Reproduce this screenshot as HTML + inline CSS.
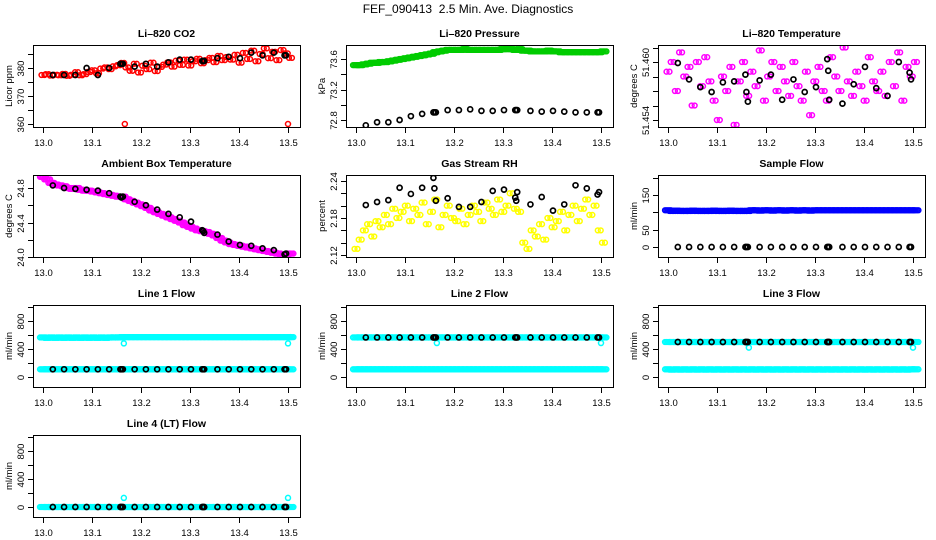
<!DOCTYPE html>
<html><head><meta charset="utf-8"><style>
html,body{margin:0;padding:0;background:#fff;}
svg{display:block;font-family:"Liberation Sans",Arial,sans-serif;}
</style></head><body>
<svg id="chart" width="936" height="540" viewBox="0 0 936 540">
<text x="468" y="13" text-anchor="middle" font-size="12">FEF_090413&#160; 2.5 Min. Ave. Diagnostics</text>
</svg>
<script>
// ---- data ----
const xTicks = [13.0,13.1,13.2,13.3,13.4,13.5];
const xTickLabels = ["13.0","13.1","13.2","13.3","13.4","13.5"];
const blackX = [13.02,13.043,13.066,13.089,13.112,13.135,13.158,13.160,13.163,13.187,13.21,13.233,13.256,13.279,13.302,13.325,13.327,13.329,13.356,13.379,13.402,13.425,13.448,13.471,13.493,13.496];

const co2Cloud = [377.5,377.8,377.3,377.6,377.4,377.9,377.2,377.6,378.5,377.4,377.8,378.6,379.2,378.1,379.8,380.2,379.6,380.6,381.0,381.8,380.2,379.0,381.5,378.4,380.8,379.6,381.9,378.9,380.4,381.2,382.0,380.5,382.6,381.1,383.0,380.9,382.4,383.3,381.7,382.8,383.6,382.1,384.3,382.8,383.9,383.0,384.7,381.9,385.4,383.2,386.2,382.4,385.0,387.0,383.5,385.8,382.8,386.4,385.2,383.6];
const co2Black = [377.5,377.5,377.5,380,377.5,380,381.5,381.5,381.5,380.5,381.5,380.5,382,383,383,382.5,382.5,382.5,383.5,384,383.5,385.5,384.5,385.5,384.5,384.5];
const co2OutX = [13.167,13.5];
const co2OutY = [360,360];

const presCloud = [73.52,73.52,73.53,73.54,73.55,73.55,73.56,73.56,73.57,73.58,73.59,73.60,73.61,73.62,73.63,73.64,73.65,73.66,73.67,73.69,73.70,73.71,73.72,73.72,73.72,73.72,73.73,73.72,73.72,73.72,73.72,73.72,73.72,73.72,73.72,73.73,73.73,73.73,73.72,73.73,73.71,73.71,73.70,73.70,73.70,73.70,73.71,73.70,73.70,73.69,73.69,73.69,73.69,73.69,73.69,73.69,73.69,73.69,73.69,73.70];
const presBlack = [72.73,72.77,72.77,72.8,72.85,72.88,72.9,72.9,72.9,72.93,72.93,72.94,72.92,72.92,72.93,72.93,72.93,72.93,72.92,72.91,72.92,72.91,72.9,72.9,72.9,72.9];

const tempCloud = [51.4590,51.4600,51.4570,51.4610,51.4585,51.4595,51.4555,51.4600,51.4575,51.4605,51.4580,51.4560,51.4540,51.4585,51.4570,51.4595,51.4535,51.4580,51.4600,51.4565,51.4590,51.4575,51.4612,51.4560,51.4585,51.4600,51.4570,51.4595,51.4580,51.4565,51.4600,51.4575,51.4560,51.4590,51.4545,51.4580,51.4595,51.4570,51.4560,51.4605,51.4585,51.4570,51.4615,51.4580,51.4565,51.4590,51.4575,51.4560,51.4605,51.4580,51.4570,51.4590,51.4565,51.4600,51.4575,51.4610,51.4560,51.4595,51.4585,51.4600];
const tempBlack = [51.4599,51.4582,51.4574,51.4569,51.4579,51.4580,51.4587,51.4569,51.4559,51.4581,51.4587,51.4561,51.4582,51.4569,51.4574,51.4603,51.4591,51.4561,51.4557,51.4577,51.4595,51.4573,51.4565,51.4600,51.4589,51.4582];

const ambCloud = [24.93,24.90,24.86,24.84,24.83,24.82,24.80,24.79,24.80,24.78,24.77,24.77,24.76,24.75,24.74,24.73,24.72,24.71,24.70,24.70,24.67,24.65,24.63,24.61,24.59,24.57,24.54,24.52,24.50,24.48,24.46,24.44,24.42,24.40,24.37,24.35,24.33,24.31,24.30,24.29,24.27,24.25,24.22,24.19,24.17,24.15,24.14,24.13,24.12,24.11,24.10,24.09,24.08,24.07,24.06,24.05,24.04,24.03,24.03,24.04];
const ambBlack = [24.83,24.80,24.79,24.78,24.77,24.74,24.70,24.69,24.70,24.64,24.60,24.55,24.50,24.46,24.41,24.31,24.30,24.28,24.26,24.18,24.14,24.13,24.10,24.08,24.03,24.04];

const rhCloud = [2.130,2.145,2.160,2.170,2.150,2.175,2.165,2.185,2.170,2.195,2.180,2.190,2.200,2.175,2.195,2.185,2.205,2.170,2.190,2.210,2.165,2.185,2.200,2.180,2.175,2.195,2.170,2.185,2.200,2.190,2.175,2.205,2.195,2.185,2.210,2.190,2.200,2.220,2.195,2.190,2.140,2.130,2.160,2.150,2.170,2.145,2.180,2.165,2.175,2.190,2.160,2.185,2.200,2.175,2.195,2.210,2.185,2.200,2.160,2.140];
const rhBlack = [2.201,2.206,2.209,2.229,2.219,2.229,2.245,2.228,2.208,2.212,2.198,2.198,2.206,2.224,2.226,2.213,2.208,2.222,2.202,2.214,2.192,2.202,2.233,2.228,2.218,2.222];

const sampleCloud = [106,104,105,104,104,104,105,104,104,104,104,105,104,104,104,105,104,104,104,104,106,106,105,106,106,105,106,106,105,106,106,105,106,106,105,106,106,106,106,106,106,106,106,106,106,106,106,106,106,106,106,106,106,106,106,106,106,106,106,106];
const sampleBlack = [0,0,0,0,0,0,0,0,0,0,0,0,0,0,0,0,0,0,0,0,0,0,0,0,0,0];

const line1Upper = [565,560,565,560,565,560,565,560,565,560,565,560,565,560,565,560,565,565,565,570,570,570,570,570,570,570,570,570,570,570,570,570,570,570,570,570,570,570,570,570,570,570,570,570,570,570,570,570,570,570,570,570,570,570,570,570,570,570,570,570];
const line1Lower = [110,110,110,110,110,110,110,110,110,110,110,110,110,110,110,110,110,110,110,110,110,110,110,110,110,110,110,110,110,110,110,110,110,110,110,110,110,110,110,110,110,110,110,110,110,110,110,110,110,110,110,110,110,110,110,110,110,110,110,110];
const line1Black = [110,110,110,110,110,110,110,110,110,110,110,110,110,110,110,110,110,110,110,110,110,110,110,110,110,110];
const line1OutX = [13.165,13.5,13.505];
const line1OutY = [480,480,570];

const line2Upper = [565,565,565,565,565,565,565,565,565,565,565,565,565,565,565,565,565,565,565,565,565,565,565,565,565,565,565,565,565,565,565,565,565,565,565,565,565,565,565,565,565,565,565,565,565,565,565,565,565,565,565,565,565,565,565,565,565,565,565,565];
const line2Lower = [110,110,110,110,110,110,110,110,110,110,110,110,110,110,110,110,110,110,110,110,110,110,110,110,110,110,110,110,110,110,110,110,110,110,110,110,110,110,110,110,110,110,110,110,110,110,110,110,110,110,110,110,110,110,110,110,110,110,110,110];
const line2Black = [565,565,565,565,565,565,565,565,565,565,565,565,565,565,565,565,565,565,565,565,565,565,565,565,565,565];
const line2OutX = [13.165,13.5];
const line2OutY = [485,485];

const line3Upper = [500,500,500,500,500,500,500,500,500,500,500,500,500,500,500,500,500,500,500,500,500,500,500,500,500,500,500,500,500,500,500,500,500,500,500,500,500,500,500,500,500,500,500,500,500,500,500,500,500,500,500,500,500,500,500,500,500,500,500,500];
const line3Lower = [110,105,110,105,110,105,110,105,110,105,110,105,110,105,110,105,110,105,110,105,110,105,110,105,110,105,110,105,110,105,110,105,110,105,110,105,110,105,110,105,110,105,110,105,110,105,110,105,110,105,110,105,110,105,110,105,110,105,110,110];
const line3Black = [500,500,500,500,500,500,500,500,500,500,500,500,500,500,500,500,500,500,500,500,500,500,500,500,500,500];
const line3OutX = [13.165,13.5];
const line3OutY = [420,420];

const line4Cloud = [0,0,0,0,0,0,0,0,0,0,0,0,0,0,0,0,0,0,0,0,0,0,0,0,0,0,0,0,0,0,0,0,0,0,0,0,0,0,0,0,0,0,0,0,0,0,0,0,0,0,0,0,0,0,0,0,0,0,0,0];
const line4Black = [0,0,0,0,0,0,0,0,0,0,0,0,0,0,0,0,0,0,0,0,0,0,0,0,0,0];
const line4OutX = [13.165,13.5];
const line4OutY = [130,130];

const flowTicks = [0,200,400,600,800,1000];
const flowLabels = ["0","","400","","800",""];

// ---- rendering ----
const NS = "http://www.w3.org/2000/svg";
const svg = document.getElementById("chart");
const colLeft = [33,346,658];
const rowTop = [45,175,305,435];
const BW = 267, BH = 82;

function el(tag, parent){ const e=document.createElementNS(NS,tag); parent.appendChild(e); return e; }
function gridX(n,i){ return 13.0 + i*0.505/(n-1); }

const panels = [
 {name:"co2",col:0,row:0,title:"Li–820 CO2",ylab:"Licor ppm",ylim:[358.93,388.21],ticks:[360,365,370,375,380,385],labels:["360","","370","","380",""],scatter:true,
  clouds:[{y:co2Cloud,c:"#ff0000"}],black:co2Black,out:[{x:co2OutX,y:co2OutY,c:"#ff0000"}]},
 {name:"pressure",col:1,row:0,title:"Li–820 Pressure",ylab:"kPa",ylim:[72.708,73.784],ticks:[72.8,73.0,73.2,73.4,73.6],labels:["72.8","","73.2","","73.6"],
  clouds:[{y:presCloud,c:"#00cc00"}],black:presBlack,out:[]},
 {name:"temperature",col:2,row:0,title:"Li–820 Temperature",ylab:"degrees C",ylim:[51.45328,51.46176],ticks:[51.454,51.4555,51.457,51.4585,51.460,51.4615],labels:["51.454","","","","51.460",""],scatter:true,
  clouds:[{y:tempCloud,c:"#ff00ff"}],black:tempBlack,out:[]},
 {name:"ambient-temperature",col:0,row:1,title:"Ambient Box Temperature",ylab:"degrees C",ylim:[24.0,24.951],ticks:[24.0,24.2,24.4,24.6,24.8],labels:["24.0","","24.4","","24.8"],
  clouds:[{y:ambCloud,c:"#ff00ff"}],black:ambBlack,out:[]},
 {name:"gas-rh",col:1,row:1,title:"Gas Stream RH",ylab:"percent",ylim:[2.1168,2.2497],ticks:[2.12,2.14,2.16,2.18,2.20,2.22,2.24],labels:["2.12","","","2.18","","","2.24"],scatter:true,
  clouds:[{y:rhCloud,c:"#ffff00"}],black:rhBlack,out:[]},
 {name:"sample-flow",col:2,row:1,title:"Sample Flow",ylab:"ml/min",ylim:[-28.8,207.7],ticks:[0,50,100,150,200],labels:["0","50","","150",""],
  clouds:[{y:sampleCloud,c:"#0000ff"}],black:sampleBlack,out:[]},
 {name:"line1-flow",col:0,row:2,title:"Line 1 Flow",ylab:"ml/min",ylim:[-142.9,1028.6],ticks:flowTicks,labels:flowLabels,
  clouds:[{y:line1Upper,c:"#00ffff"},{y:line1Lower,c:"#00ffff"}],black:line1Black,out:[{x:line1OutX,y:line1OutY,c:"#00ffff"}]},
 {name:"line2-flow",col:1,row:2,title:"Line 2 Flow",ylab:"ml/min",ylim:[-142.9,1028.6],ticks:flowTicks,labels:flowLabels,
  clouds:[{y:line2Upper,c:"#00ffff"},{y:line2Lower,c:"#00ffff"}],black:line2Black,out:[{x:line2OutX,y:line2OutY,c:"#00ffff"}]},
 {name:"line3-flow",col:2,row:2,title:"Line 3 Flow",ylab:"ml/min",ylim:[-142.9,1028.6],ticks:flowTicks,labels:flowLabels,
  clouds:[{y:line3Upper,c:"#00ffff"},{y:line3Lower,c:"#00ffff"}],black:line3Black,out:[{x:line3OutX,y:line3OutY,c:"#00ffff"}]},
 {name:"line4-flow",col:0,row:3,title:"Line 4 (LT) Flow",ylab:"ml/min",ylim:[-142.9,1028.6],ticks:flowTicks,labels:flowLabels,
  clouds:[{y:line4Cloud,c:"#00ffff"}],black:line4Black,out:[{x:line4OutX,y:line4OutY,c:"#00ffff"}]}
];

panels.forEach(p=>{
  const L=colLeft[p.col], T=rowTop[p.row];
  const sx = v => L+10 + (v-13.0)*490;
  const sy = v => T+BH - (v-p.ylim[0])/(p.ylim[1]-p.ylim[0])*BH;
  const g = el("g",svg);
  
  

  const t = el("text",g);
  t.setAttribute("x", L+BW/2); t.setAttribute("y", T-8);
  t.setAttribute("text-anchor","middle"); t.setAttribute("font-size","10.5"); t.setAttribute("font-weight","bold");
  t.textContent = p.title;
  
  

  const cid="clip-"+p.name;
  const cp=el("clipPath",g); cp.setAttribute("id",cid);
  const cr=el("rect",cp); cr.setAttribute("x",L); cr.setAttribute("y",T); cr.setAttribute("width",BW); cr.setAttribute("height",BH);
  const mg=el("g",g); mg.setAttribute("clip-path","url(#"+cid+")");
  
  

  const offs = p.scatter ? [-1.5,1.5] : [-3,-1.5,0,1.5,3];
  p.clouds.forEach(s=>{
    const n=s.y.length;
    s.y.forEach((v,i)=>{
      offs.forEach(dx=>{
        const c=el("circle",mg);
        c.setAttribute("cx", sx(gridX(n,i))+dx); c.setAttribute("cy", sy(v));
        c.setAttribute("r","2.4"); c.setAttribute("fill","none");
        c.setAttribute("stroke",s.c); c.setAttribute("stroke-width","1.5");
        
        
      });
    });
  });
  p.out.forEach(s=>{
    s.x.forEach((xv,i)=>{
      const c=el("circle",mg);
      c.setAttribute("cx", sx(xv)); c.setAttribute("cy", sy(s.y[i]));
      c.setAttribute("r","2.5"); c.setAttribute("fill","none");
      c.setAttribute("stroke",s.c); c.setAttribute("stroke-width","1.5");
      
      
    });
  });
  p.black.forEach((v,i)=>{
    const c=el("circle",mg);
    c.setAttribute("cx", sx(blackX[i])); c.setAttribute("cy", sy(v));
    c.setAttribute("r","2.5"); c.setAttribute("fill","none");
    c.setAttribute("stroke","#000"); c.setAttribute("stroke-width","1.7");
    
    
  });

  const box=el("rect",g);
  box.setAttribute("x",L+0.5); box.setAttribute("y",T+0.5); box.setAttribute("width",BW); box.setAttribute("height",BH);
  box.setAttribute("fill","none"); box.setAttribute("stroke","#000"); box.setAttribute("stroke-width","1");
  
  

  xTicks.forEach((xv,i)=>{
    const X=Math.round(sx(xv))+0.5;
    const tk=el("line",g);
    tk.setAttribute("x1",X); tk.setAttribute("x2",X); tk.setAttribute("y1",T+BH); tk.setAttribute("y2",T+BH+6);
    tk.setAttribute("stroke","#000");
    
    
    const lb=el("text",g);
    lb.setAttribute("x",X); lb.setAttribute("y",T+BH+19);
    lb.setAttribute("text-anchor","middle"); lb.setAttribute("font-size","9.5");
    lb.textContent=xTickLabels[i];
    
    
  });
  p.ticks.forEach((yv,i)=>{
    const Y=Math.round(sy(yv))+0.5;
    const tk=el("line",g);
    tk.setAttribute("x1",L-5); tk.setAttribute("x2",L); tk.setAttribute("y1",Y); tk.setAttribute("y2",Y);
    tk.setAttribute("stroke","#000");
    
    
    if(p.labels[i]){
      const lb=el("text",g);
      const lx=L-9;
      lb.setAttribute("x",lx); lb.setAttribute("y",Y);
      lb.setAttribute("text-anchor","middle"); lb.setAttribute("font-size","9.5");
      lb.setAttribute("transform","rotate(-90 "+lx+" "+Y+")");
      lb.textContent=p.labels[i];
      
      
    }
  });
  const yl=el("text",g);
  const yx=L-21, yy=T+BH/2;
  yl.setAttribute("x",yx); yl.setAttribute("y",yy);
  yl.setAttribute("text-anchor","middle"); yl.setAttribute("font-size","9.5");
  yl.setAttribute("transform","rotate(-90 "+yx+" "+yy+")");
  yl.textContent=p.ylab;
  
  
});
</script>
</body></html>
